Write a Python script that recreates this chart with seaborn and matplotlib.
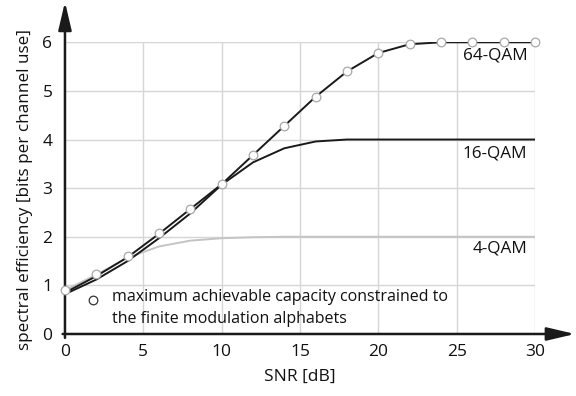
import matplotlib
matplotlib.use("Agg")
import matplotlib.pyplot as plt
import seaborn as sns
import pandas as pd

# SNR grid (dB)
snr = [0, 2, 4, 6, 8, 10, 12, 14, 16, 18, 20, 22, 24, 26, 28, 30]

# spectral efficiency per modulation [bits per channel use]
qam4 = [0.90, 1.22, 1.57, 1.80, 1.92, 1.97, 1.99, 2.0, 2.0, 2.0, 2.0, 2.0, 2.0, 2.0, 2.0, 2.0]
qam16 = [0.82, 1.12, 1.50, 1.97, 2.48, 3.07, 3.53, 3.82, 3.96, 4.0, 4.0, 4.0, 4.0, 4.0, 4.0, 4.0]
qam64 = [0.85, 1.19, 1.58, 2.06, 2.57, 3.08, 3.68, 4.28, 4.88, 5.40, 5.78, 5.96, 6.0, 6.0, 6.0, 6.0]

# maximum achievable capacity over the finite alphabets
capacity = [0.90, 1.23, 1.60, 2.08, 2.58, 3.09, 3.68, 4.28, 4.88, 5.40, 5.78, 5.96, 6.0, 6.0, 6.0, 6.0]

curve_labels = ["4-QAM", "16-QAM", "64-QAM"]
label_pos = [(29.5, 1.75), (29.5, 3.72), (29.5, 5.72)]

x_ticks = [0, 5, 10, 15, 20, 25, 30]
y_ticks = [0, 1, 2, 3, 4, 5, 6]

sns.set_theme(style="white")
plt.rcParams["font.family"] = ["Open Sans", "DejaVu Sans"]

df = pd.DataFrame({"snr": snr, "4-QAM": qam4, "16-QAM": qam16,
                   "64-QAM": qam64, "cap": capacity})

fig = plt.figure(figsize=(5.76, 3.96), dpi=100)
ax = fig.add_axes([0.1128, 0.1566, 0.8160, 0.7366])

grid_c = "#d6d6d6"
for xv in x_ticks[1:]:
    ax.plot([xv, xv], [0, 6], color=grid_c, lw=1.0, zorder=0)
for yv in y_ticks[1:]:
    ax.plot([0, 30], [yv, yv], color=grid_c, lw=1.0, zorder=0)

sns.lineplot(data=df, x="snr", y="4-QAM", color="#c4c4c4", lw=1.4, ax=ax, zorder=2)
sns.lineplot(data=df, x="snr", y="16-QAM", color="#1a1a1a", lw=1.4, ax=ax, zorder=3)
sns.lineplot(data=df, x="snr", y="64-QAM", color="#1a1a1a", lw=1.4, ax=ax, zorder=3)
ax.plot(df["snr"], df["cap"], ls="none", marker="o", ms=6.2, mfc="white",
        mec="#a8a8a8", mew=0.9, zorder=5, clip_on=False)

for txt, (lx, ly) in zip(curve_labels, label_pos):
    ax.text(lx, ly, txt, ha="right", va="center", fontsize=12.3, color="#111111")

# legend note for the markers
ax.plot([1.81], [0.70], ls="none", marker="o", ms=6.2, mfc="white",
        mec="#333333", mew=0.9, zorder=5)
ax.text(3.0, 0.76, "maximum achievable capacity constrained to",
        ha="left", va="center", fontsize=11.5, color="#111111")
ax.text(3.0, 0.30, "the finite modulation alphabets",
        ha="left", va="center", fontsize=11.5, color="#111111")

ax.set_xlim(0, 30)
ax.set_ylim(0, 6)
ax.set_xticks(x_ticks)
ax.set_yticks(y_ticks)
for s in ax.spines.values():
    s.set_visible(False)
ax.tick_params(axis="both", direction="inout", length=6, width=1.4,
               color="#1a1a1a", labelsize=12.5, labelcolor="#111111")
ax.tick_params(axis="x", pad=4)
ax.tick_params(axis="y", pad=6)

# axis arrows
arrow_kw = dict(arrowstyle="-|>,head_length=0.85,head_width=0.2",
                color="#1a1a1a", lw=1.8, mutation_scale=20, shrinkA=0, shrinkB=0)
ax.annotate("", xy=(0, 6.83), xytext=(0, -0.08), xycoords="data",
            arrowprops=arrow_kw, annotation_clip=False)
ax.annotate("", xy=(32.55, 0), xytext=(-0.15, 0), xycoords="data",
            arrowprops=arrow_kw, annotation_clip=False)

ax.set_xlabel("SNR [dB]", fontsize=12.5, color="#111111")
ax.set_ylabel("spectral efficiency [bits per channel use]", fontsize=12.3, color="#111111")
ax.xaxis.set_label_coords(0.5, -0.12)
ax.yaxis.set_label_coords(-0.068, 0.494)

fig.savefig("out.png", dpi=100)
